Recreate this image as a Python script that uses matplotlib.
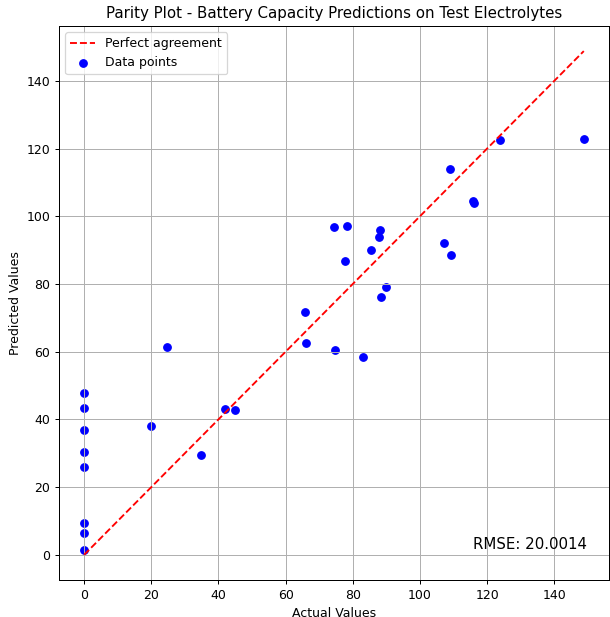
import matplotlib
matplotlib.use("Agg")
import matplotlib.pyplot as plt

actual = [0, 0, 0, 0, 0, 0, 0, 0,
          19.8, 34.7, 42.0, 44.9, 24.7,
          74.5, 78.2, 88.0, 87.7, 85.4, 77.7,
          107.1, 109.4, 89.8, 88.3, 65.9, 66.1, 74.8, 82.9,
          115.8, 116.0, 123.8, 148.8, 109.1]
predicted = [47.9, 43.3, 36.9, 30.3, 26.0, 9.5, 6.3, 1.5,
             38.0, 29.5, 43.1, 42.8, 61.5,
             96.8, 97.1, 95.9, 93.9, 90.1, 86.8,
             92.1, 88.7, 79.0, 76.1, 71.8, 62.7, 60.6, 58.5,
             104.6, 104.0, 122.6, 122.7, 114.1]
rmse_text = "RMSE: 20.0014"


def main():
    fig, ax = plt.subplots(figsize=(610 / 90, 617 / 90), dpi=90)
    fig.subplots_adjust(left=0.097, right=0.998, top=0.958, bottom=0.06)

    lim = max(actual)
    ax.plot([0, lim], [0, lim], "r--", label="Perfect agreement")
    ax.scatter(actual, predicted, color="blue", label="Data points")

    ax.set_title("Parity Plot - Battery Capacity Predictions on Test Electrolytes")
    ax.set_xlabel("Actual Values")
    ax.set_ylabel("Predicted Values")
    ax.grid(True)
    ax.legend(loc="upper left")
    ax.text(0.96, 0.05, rmse_text, transform=ax.transAxes,
            ha="right", va="bottom", fontsize=12)

    fig.savefig("out.png")


if __name__ == "__main__":
    main()
